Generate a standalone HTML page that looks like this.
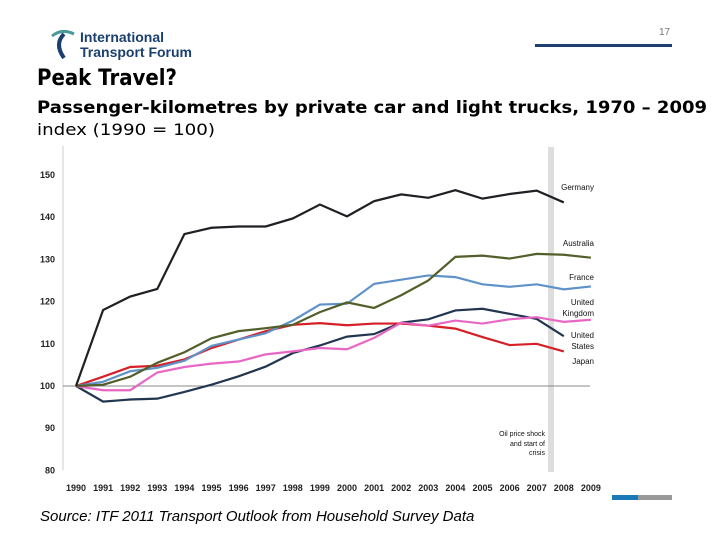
<!DOCTYPE html>
<html><head><meta charset="utf-8"><style>
body{margin:0;width:720px;height:540px;background:#fff;overflow:hidden;font-family:"Liberation Sans",sans-serif;position:relative}
.a{position:absolute;white-space:nowrap}
.fit{transform-origin:0 0}
</style></head><body>
<div class="a" style="left:48px;top:28px;width:140px;height:32px">
<svg width="140" height="32"><path d="M4 8 Q14 0 26 6" stroke="#4a9a9a" stroke-width="3" fill="none"/><path d="M16 6 Q6 16 16 30" stroke="#1b3f6e" stroke-width="4" fill="none"/></svg>
<div class="a" style="left:32px;top:2px;font-weight:bold;font-size:14px;line-height:15px;color:#1b3f6e">International<br>Transport Forum</div></div>
<div class="a" style="left:659px;top:27px;font-size:10px;color:#777">17</div>
<div class="a" style="left:535px;top:44px;width:137px;height:3px;background:#1b3f6e"></div>
<div class="a fit" data-w="140" style="left:37px;top:66px;font-size:22px;font-weight:bold;font-family:'DejaVu Sans',sans-serif">Peak Travel?</div>
<div class="a fit" data-w="670" style="left:37px;top:98px;font-size:17px;font-weight:bold;font-family:'DejaVu Sans',sans-serif">Passenger-kilometres by private car and light trucks, 1970 – 2009</div>
<div class="a fit" data-w="178" style="left:37px;top:120px;font-size:16px;font-family:'DejaVu Sans',sans-serif">index (1990 = 100)</div>
<div class="a" style="left:40px;top:508px;font-size:15px;font-style:italic">Source: ITF 2011 Transport Outlook from Household Survey Data</div>
<div class="a" style="left:612px;top:495px;width:26px;height:5px;background:#1a7ab8"></div>
<div class="a" style="left:638px;top:495px;width:34px;height:5px;background:#999"></div>
<svg id="chart" class="a" style="left:0;top:0" width="720" height="540"></svg>
<script>
document.querySelectorAll('.fit').forEach(e=>{const w=e.getBoundingClientRect().width;e.style.transform='scaleX('+(+e.dataset.w/w)+')';});
const years=[1990,1991,1992,1993,1994,1995,1996,1997,1998,1999,2000,2001,2002,2003,2004,2005,2006,2007,2008,2009];
const yTicks=[80,90,100,110,120,130,140,150];
const germany=[100,118,121.2,123,136,137.5,137.8,137.8,139.7,143,140.2,143.8,145.4,144.6,146.4,144.4,145.5,146.3,143.5];
const australia=[100,100.3,102.2,105.5,108,111.3,113,113.7,114.5,117.5,119.8,118.5,121.5,125,130.6,130.9,130.2,131.3,131.1,130.4];
const france=[100,101,103.5,104.3,106,109.5,111,112.5,115.5,119.3,119.5,124.2,125.2,126.2,125.8,124.1,123.5,124.1,122.9,123.6];
const uk=[100,99,99,103.2,104.5,105.3,105.8,107.5,108.2,109,108.7,111.4,115,114.3,115.5,114.8,115.8,116.3,115.2,115.7];
const us=[100,96.3,96.8,97,98.6,100.3,102.3,104.6,107.8,109.6,111.7,112.3,115,115.8,117.9,118.3,117.1,115.9,111.8];
const japan=[100,102.2,104.5,104.8,106.3,109,111,113,114.5,114.9,114.4,114.8,114.8,114.3,113.6,111.6,109.7,110,108.2];
const svg=document.getElementById('chart');const NS='http://www.w3.org/2000/svg';
const X=y=>76+(y-1990)*27.1;const Y=v=>386-(v-100)*4.22;
function mk(t,a){const e=document.createElementNS(NS,t);for(const k in a)e.setAttribute(k,a[k]);svg.appendChild(e);return e;}
let band=mk('rect',{x:548,y:147,width:6,height:325,fill:'#ddd'});


let ax=mk('line',{x1:63,y1:146,x2:63,y2:470,stroke:'#ccc'});


let base=mk('line',{x1:63,y1:Y(100),x2:590,y2:Y(100),stroke:'#888'});


yTicks.forEach(v=>{const t=mk('text',{x:55,y:Y(v)+3,'text-anchor':'end','font-size':9,'font-weight':'bold',fill:'#222'});t.textContent=v;

});
years.forEach(y=>{const t=mk('text',{x:X(y),y:491,'text-anchor':'middle','font-size':9,'font-weight':'bold',fill:'#222'});t.textContent=y;

});
const series=[[us,'#22364f','us-line'],[japan,'#d61f26','japan-line'],[uk,'#e967c4','uk-line'],[france,'#5e92c8','france-line'],[australia,'#525f2a','australia-line'],[germany,'#1f1f24','germany-line']];
series.forEach(([d,c,n])=>{const p=mk('polyline',{points:d.map((v,i)=>X(years[i])+','+Y(v)).join(' '),fill:'none',stroke:c,'stroke-width':2.2});

});
const labels=[['Germany',187],['Australia',243],['France',277],['United',302],['Kingdom',313],['United',335],['States',346],['Japan',361]];
labels.forEach(([s,y])=>{const t=mk('text',{x:594,y:y+3,'text-anchor':'end','font-size':8,fill:'#111'});t.textContent=s;

});
[['Oil price shock',433],['and start of',443],['crisis',452]].forEach(([s,y])=>{const t=mk('text',{x:545,y:y+3,'text-anchor':'end','font-size':7,fill:'#111'});t.textContent=s;

});
</script>
</body></html>
